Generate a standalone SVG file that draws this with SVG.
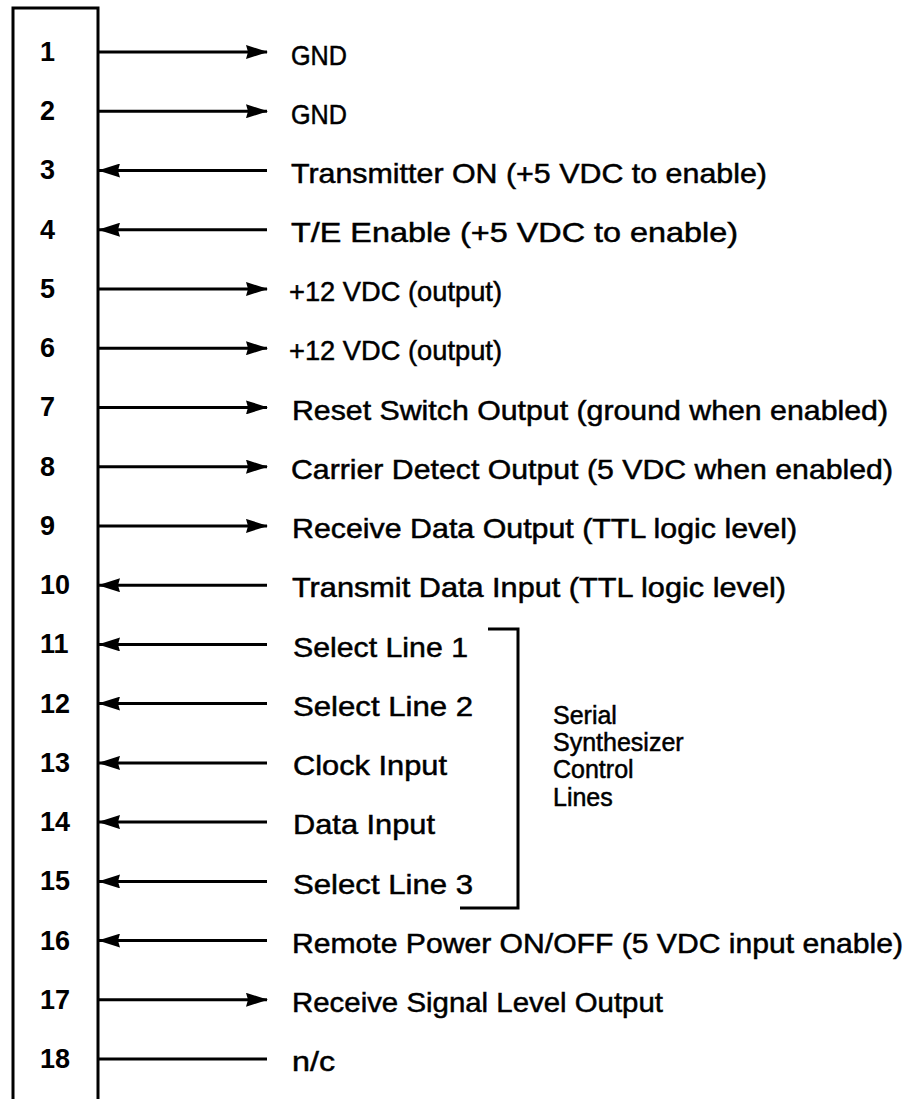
<svg xmlns="http://www.w3.org/2000/svg" width="906" height="1099" viewBox="0 0 906 1099">
<style>
.num{font-family:"Liberation Sans",Arial,sans-serif;font-size:27px;font-weight:bold;fill:#000}
.lbl{font-family:"Liberation Sans",Arial,sans-serif;font-size:28px;fill:#000;stroke:#000;stroke-width:0.5}
.grp{font-family:"Liberation Sans",Arial,sans-serif;font-size:25px;fill:#000;stroke:#000;stroke-width:0.5}
.ln{stroke:#000;stroke-width:3;fill:none}
</style>
<defs>
<marker id="ah" markerWidth="22" markerHeight="14" refX="21" refY="7" orient="auto-start-reverse" markerUnits="userSpaceOnUse">
<path d="M0,0 L22,7 L0,14 L2,7 Z" fill="#000"/>
</marker>
</defs>
<rect width="906" height="1099" fill="#fff"/>
<g id="connector-block">
<path class="ln" d="M13,1099 V8 H98 V1099"/>
</g>
<g id="pin-numbers">
<text class="num" x="40" y="61">1</text>
<text class="num" x="40" y="120">2</text>
<text class="num" x="40" y="179">3</text>
<text class="num" x="40" y="239">4</text>
<text class="num" x="40" y="298">5</text>
<text class="num" x="40" y="357">6</text>
<text class="num" x="40" y="416">7</text>
<text class="num" x="40" y="476">8</text>
<text class="num" x="40" y="535">9</text>
<text class="num" x="40" y="594">10</text>
<text class="num" x="40" y="653">11</text>
<text class="num" x="40" y="713">12</text>
<text class="num" x="40" y="772">13</text>
<text class="num" x="40" y="831">14</text>
<text class="num" x="40" y="890">15</text>
<text class="num" x="40" y="950">16</text>
<text class="num" x="40" y="1009">17</text>
<text class="num" x="40" y="1068">18</text>
</g>
<g id="connectors">
<line class="ln" x1="99" y1="52" x2="267" y2="52" marker-end="url(#ah)"/>
<line class="ln" x1="99" y1="111.2" x2="267" y2="111.2" marker-end="url(#ah)"/>
<line class="ln" x1="99" y1="170.5" x2="267" y2="170.5" marker-start="url(#ah)"/>
<line class="ln" x1="99" y1="229.7" x2="267" y2="229.7" marker-start="url(#ah)"/>
<line class="ln" x1="99" y1="289" x2="267" y2="289" marker-end="url(#ah)"/>
<line class="ln" x1="99" y1="348.2" x2="267" y2="348.2" marker-end="url(#ah)"/>
<line class="ln" x1="99" y1="407.4" x2="267" y2="407.4" marker-end="url(#ah)"/>
<line class="ln" x1="99" y1="466.7" x2="267" y2="466.7" marker-end="url(#ah)"/>
<line class="ln" x1="99" y1="525.9" x2="267" y2="525.9" marker-end="url(#ah)"/>
<line class="ln" x1="99" y1="585.2" x2="267" y2="585.2" marker-start="url(#ah)"/>
<line class="ln" x1="99" y1="644.4" x2="267" y2="644.4" marker-start="url(#ah)"/>
<line class="ln" x1="99" y1="703.6" x2="267" y2="703.6" marker-start="url(#ah)"/>
<line class="ln" x1="99" y1="762.9" x2="267" y2="762.9" marker-start="url(#ah)"/>
<line class="ln" x1="99" y1="822.1" x2="267" y2="822.1" marker-start="url(#ah)"/>
<line class="ln" x1="99" y1="881.4" x2="267" y2="881.4" marker-start="url(#ah)"/>
<line class="ln" x1="99" y1="940.6" x2="267" y2="940.6" marker-start="url(#ah)"/>
<line class="ln" x1="99" y1="999.8" x2="267" y2="999.8" marker-end="url(#ah)"/>
<line class="ln" x1="99" y1="1059.1" x2="267" y2="1059.1"/>
<path id="bracket" class="ln" d="M488,629 H518 V908 H460"/>
</g>
<g id="labels">
<text class="lbl" x="291" y="65" textLength="56" lengthAdjust="spacingAndGlyphs">GND</text>
<text class="lbl" x="291" y="124" textLength="56" lengthAdjust="spacingAndGlyphs">GND</text>
<text class="lbl" x="291" y="183" textLength="476" lengthAdjust="spacingAndGlyphs">Transmitter ON (+5 VDC to enable)</text>
<text class="lbl" x="291" y="242" textLength="447" lengthAdjust="spacingAndGlyphs">T/E Enable (+5 VDC to enable)</text>
<text class="lbl" x="289" y="301" textLength="213" lengthAdjust="spacingAndGlyphs">+12 VDC (output)</text>
<text class="lbl" x="289" y="360" textLength="213" lengthAdjust="spacingAndGlyphs">+12 VDC (output)</text>
<text class="lbl" x="292" y="420" textLength="596" lengthAdjust="spacingAndGlyphs">Reset Switch Output (ground when enabled)</text>
<text class="lbl" x="291" y="479" textLength="602" lengthAdjust="spacingAndGlyphs">Carrier Detect Output (5 VDC when enabled)</text>
<text class="lbl" x="292" y="538" textLength="505" lengthAdjust="spacingAndGlyphs">Receive Data Output (TTL logic level)</text>
<text class="lbl" x="292" y="597" textLength="494" lengthAdjust="spacingAndGlyphs">Transmit Data Input (TTL logic level)</text>
<text class="lbl" x="293" y="657" textLength="175" lengthAdjust="spacingAndGlyphs">Select Line 1</text>
<text class="lbl" x="293" y="716" textLength="180" lengthAdjust="spacingAndGlyphs">Select Line 2</text>
<text class="lbl" x="293" y="775" textLength="154" lengthAdjust="spacingAndGlyphs">Clock Input</text>
<text class="lbl" x="293" y="834" textLength="142" lengthAdjust="spacingAndGlyphs">Data Input</text>
<text class="lbl" x="293" y="894" textLength="180" lengthAdjust="spacingAndGlyphs">Select Line 3</text>
<text class="lbl" x="292" y="953" textLength="611" lengthAdjust="spacingAndGlyphs">Remote Power ON/OFF (5 VDC input enable)</text>
<text class="lbl" x="292" y="1012" textLength="371" lengthAdjust="spacingAndGlyphs">Receive Signal Level Output</text>
<text class="lbl" x="292" y="1071" textLength="43" lengthAdjust="spacingAndGlyphs">n/c</text>
</g>
<g id="bracket-label">
<text class="grp" x="553" y="724">Serial</text>
<text class="grp" x="553" y="751">Synthesizer</text>
<text class="grp" x="553" y="778">Control</text>
<text class="grp" x="553" y="806">Lines</text>
</g>
</svg>
